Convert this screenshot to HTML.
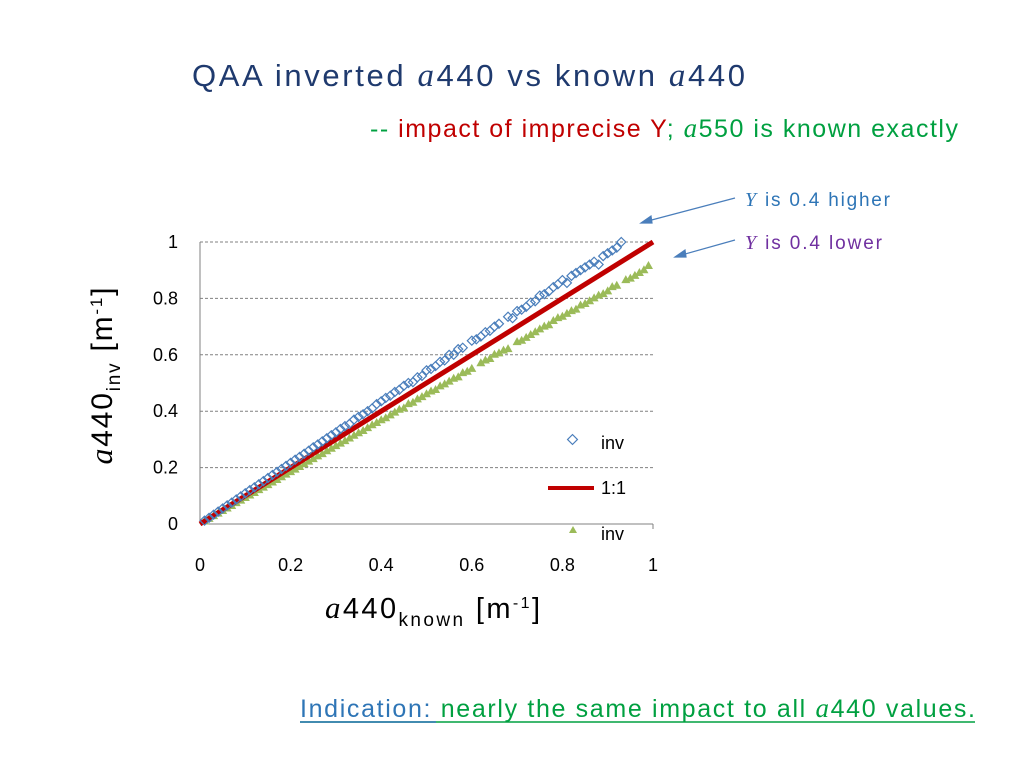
<!DOCTYPE html>
<html><head><meta charset="utf-8">
<style>
body{margin:0;background:#fff;width:1024px;height:768px;overflow:hidden;font-family:"Liberation Sans",sans-serif;}
svg{position:absolute;left:0;top:0}
.it{font-family:"Liberation Serif",serif;font-style:italic}
</style></head>
<body>
<svg width="1024" height="768">
<text x="192" y="86" font-size="31" fill="#1f3a6e" textLength="553" lengthAdjust="spacing">QAA inverted <tspan class="it" font-size="33">a</tspan>440 vs known <tspan class="it" font-size="33">a</tspan>440</text>
<text x="370" y="137" font-size="25" textLength="588" lengthAdjust="spacing"><tspan fill="#00a040">-- </tspan><tspan fill="#c00000">impact of imprecise Y</tspan><tspan fill="#00a040">; </tspan><tspan class="it" fill="#00a040" font-size="27">a</tspan><tspan fill="#00a040">550 is known exactly</tspan></text>
<text x="745" y="206" font-size="19" fill="#2e75b6" textLength="145" lengthAdjust="spacing"><tspan class="it" font-size="20">Y</tspan> is 0.4 higher</text>
<text x="745" y="249" font-size="19" fill="#7030a0" textLength="137" lengthAdjust="spacing"><tspan class="it" font-size="20">Y</tspan> is 0.4 lower</text>
<g stroke="#4a7ebb" stroke-width="1.2" fill="#4a7ebb">
<line x1="735" y1="198" x2="644" y2="222"/><polygon points="641,223 651,216 652,223" />
<line x1="735" y1="240" x2="678" y2="256"/><polygon points="675,257 685,250 686,257"/>
</g>
<g id="grid"></g>
<g id="axes"></g>
<g id="marks"></g>
<text transform="translate(112,376) rotate(-90)" text-anchor="middle" font-size="30" fill="#000" textLength="177" lengthAdjust="spacing"><tspan class="it" font-size="32">a</tspan>440<tspan font-size="19" dy="8">inv</tspan><tspan dy="-8"> [m</tspan><tspan font-size="17" dy="-10">-1</tspan><tspan dy="10">]</tspan></text>
<text x="325" y="618" font-size="29" fill="#000" textLength="215" lengthAdjust="spacing"><tspan class="it" font-size="31">a</tspan>440<tspan font-size="19" dy="8">known</tspan><tspan dy="-8">  [m</tspan><tspan font-size="16" dy="-10">-1</tspan><tspan dy="10">]</tspan></text>
<g>
<rect x="569" y="436" width="7" height="7" transform="rotate(45 572.5 439.5)" fill="none" stroke="#4a7ebb" stroke-width="1.2"/>
<text x="601" y="449" font-size="18">inv</text>
<line x1="548" y1="488" x2="594" y2="488" stroke="#c00000" stroke-width="4"/>
<text x="601" y="494" font-size="18">1:1</text>
<polygon points="573,526 569,533 577,533" fill="#9bbb59"/>
<text x="601" y="540" font-size="18">inv</text>
</g>
<text x="300" y="717" font-size="25" textLength="675" lengthAdjust="spacing"><tspan fill="#2e75b6">Indication: </tspan><tspan fill="#00a040">nearly the same impact to all </tspan><tspan fill="#00a040" class="it" font-size="27">a</tspan><tspan fill="#00a040">440 values.</tspan></text>
<line x1="300" y1="722" x2="975" y2="722" stroke="#00a040" stroke-width="1.5"/>
<line x1="300" y1="722" x2="436" y2="722" stroke="#2e75b6" stroke-width="1.5"/>
</svg>
<script>
const xTicks=[0,0.2,0.4,0.6,0.8,1];
const yTicks=[0,0.2,0.4,0.6,0.8,1];
const highX=[0.01,0.02,0.03,0.04,0.05,0.06,0.07,0.08,0.09,0.1,0.11,0.12,0.13,0.14,0.15,0.16,0.17,0.18,0.19,0.2,0.21,0.22,0.23,0.24,0.25,0.26,0.27,0.28,0.29,0.3,0.31,0.32,0.33,0.34,0.35,0.36,0.37,0.38,0.39,0.4,0.41,0.42,0.43,0.44,0.45,0.46,0.47,0.48,0.49,0.5,0.51,0.52,0.53,0.54,0.55,0.56,0.57,0.58,0.6,0.61,0.62,0.63,0.64,0.65,0.66,0.68,0.69,0.7,0.71,0.72,0.73,0.74,0.75,0.76,0.77,0.78,0.79,0.8,0.81,0.82,0.83,0.84,0.85,0.86,0.87,0.88,0.89,0.9,0.91,0.92,0.93];
const highY=[0.012,0.022,0.033,0.044,0.055,0.066,0.076,0.087,0.098,0.109,0.12,0.13,0.141,0.152,0.163,0.174,0.185,0.195,0.206,0.217,0.228,0.238,0.249,0.26,0.272,0.282,0.293,0.304,0.315,0.325,0.337,0.347,0.355,0.37,0.38,0.389,0.4,0.41,0.425,0.435,0.447,0.455,0.468,0.476,0.49,0.5,0.503,0.52,0.525,0.545,0.55,0.56,0.575,0.58,0.6,0.6,0.62,0.625,0.65,0.655,0.665,0.68,0.685,0.7,0.71,0.735,0.73,0.755,0.76,0.77,0.785,0.79,0.81,0.815,0.825,0.84,0.85,0.865,0.855,0.88,0.89,0.9,0.91,0.92,0.93,0.92,0.95,0.96,0.97,0.98,1.0];
const lowX=[0.01,0.02,0.03,0.04,0.05,0.06,0.07,0.08,0.09,0.1,0.11,0.12,0.13,0.14,0.15,0.16,0.17,0.18,0.19,0.2,0.21,0.22,0.23,0.24,0.25,0.26,0.27,0.28,0.29,0.3,0.31,0.32,0.33,0.34,0.35,0.36,0.37,0.38,0.39,0.4,0.41,0.42,0.43,0.44,0.45,0.46,0.47,0.48,0.49,0.5,0.51,0.52,0.53,0.54,0.55,0.56,0.57,0.58,0.59,0.6,0.62,0.63,0.64,0.65,0.66,0.67,0.68,0.7,0.71,0.72,0.73,0.74,0.75,0.76,0.77,0.78,0.79,0.8,0.81,0.82,0.83,0.84,0.85,0.86,0.87,0.88,0.89,0.9,0.91,0.92,0.94,0.95,0.96,0.97,0.98,0.99];
const lowY=[0.009,0.018,0.028,0.037,0.046,0.055,0.064,0.074,0.083,0.092,0.101,0.11,0.12,0.129,0.138,0.147,0.156,0.166,0.175,0.184,0.193,0.202,0.212,0.221,0.23,0.24,0.248,0.258,0.267,0.276,0.285,0.294,0.303,0.313,0.322,0.33,0.34,0.35,0.358,0.368,0.375,0.385,0.395,0.405,0.41,0.425,0.43,0.442,0.45,0.46,0.47,0.475,0.488,0.495,0.505,0.515,0.52,0.535,0.54,0.55,0.57,0.58,0.585,0.6,0.605,0.615,0.62,0.645,0.65,0.66,0.67,0.68,0.69,0.7,0.705,0.72,0.73,0.735,0.745,0.755,0.76,0.775,0.78,0.79,0.8,0.81,0.815,0.825,0.84,0.845,0.865,0.87,0.88,0.89,0.9,0.915];
const refX=[0,1];
const refY=[0,1];
const NS="http://www.w3.org/2000/svg";
const X0=200,X1=653,Y0=524,Y1=242;
function sx(v){return X0+(X1-X0)*v;}
function sy(v){return Y0-(Y0-Y1)*v;}
function mk(tag,attrs,parent){const e=document.createElementNS(NS,tag);for(const k in attrs)e.setAttribute(k,attrs[k]);parent.appendChild(e);return e;}
const grid=document.getElementById('grid'),axes=document.getElementById('axes'),marks=document.getElementById('marks');
yTicks.forEach(t=>{
 if(t>0){const g=mk('line',{x1:X0,x2:X1,y1:sy(t),y2:sy(t),stroke:'#808080','stroke-dasharray':'3,2','stroke-width':1},grid);
 
 }
 const l=mk('text',{x:X0-22,y:sy(t)+6,'text-anchor':'end','font-size':18},axes);l.textContent=t;
 
 
});
xTicks.forEach(t=>{
 const l=mk('text',{x:sx(t),y:571,'text-anchor':'middle','font-size':18},axes);l.textContent=t;
 
 
});
mk('line',{x1:X0,x2:X0,y1:Y1,y2:Y0,stroke:'#808080'},axes);
mk('line',{x1:X0,x2:X1,y1:Y0,y2:Y0,stroke:'#808080'},axes);
mk('line',{x1:X1,x2:X1,y1:Y0,y2:Y0+5,stroke:'#808080'},axes);
lowX.forEach((x,i)=>{
 const cx=sx(x),cy=sy(lowY[i]);
 const p=mk('polygon',{points:`${cx},${cy-5} ${cx-4.5},${cy+3} ${cx+4.5},${cy+3}`,fill:'#9bbb59'},marks);
 
 
});
const rl=mk('line',{x1:sx(refX[0]),y1:sy(refY[0]),x2:sx(refX[1]),y2:sy(refY[1]),stroke:'#c00000','stroke-width':5},marks);


highX.forEach((x,i)=>{
 const cx=sx(x),cy=sy(highY[i]);
 const p=mk('polygon',{points:`${cx},${cy-4.5} ${cx+4.5},${cy} ${cx},${cy+4.5} ${cx-4.5},${cy}`,fill:'none',stroke:'#4a7ebb','stroke-width':1.2},marks);
 
 
});
</script>
</body></html>
